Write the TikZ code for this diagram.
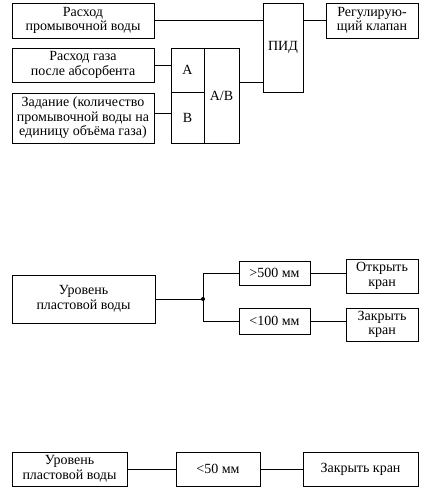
\documentclass[tikz,border=0pt]{standalone}
\usepackage{fontspec}
\setmainfont{Liberation Serif}
\begin{document}
\begin{tikzpicture}[x=1pt,y=-1pt,line width=0.8pt,
    blk/.style={draw,align=center,inner sep=0pt,font=\fontsize{14}{14.5}\selectfont}]
            \useasboundingbox (0,0) rectangle (429,490);
            \node[blk, minimum width=142, minimum height=35] (flow) at (83,20.5) {Расход\\промывочной воды};
            \node[blk, minimum width=142, minimum height=34] (gas) at (83,65) {Расход газа\\после абсорбента};
            \node[blk, minimum width=142, minimum height=50] (task) at (83,118) {Задание (количество\\промывочной воды на\\единицу объёма газа)};
            \node[blk, minimum width=33, minimum height=44] (inA) at (187.5,70) {A};
            \node[blk, minimum width=33, minimum height=51] (inB) at (187.5,117.5) {B};
            \node[blk, minimum width=35, minimum height=95] (ratio) at (221.5,95.5) {A/B};
            \node[blk, minimum width=40, minimum height=89] (pid) at (283,47.5) {ПИД};
            \node[blk, minimum width=92, minimum height=35] (valve) at (372,20.5) {Регулирую-\\щий клапан};
            \draw (flow.east) -- (flow.east -| pid.west);
            \draw (gas.east) -- (gas.east -| inA.west);
            \draw ([yshift=5pt]task.east) -- ([yshift=5pt]task.east -| inB.west);
            \draw ([yshift=13pt]ratio.east) -- ([yshift=13pt]ratio.east -| pid.west);
            \draw (valve.west) -- (valve.west -| pid.east);
            \node[blk, minimum width=143, minimum height=48] (level) at (83.5,299) {Уровень\\пластовой воды};
            \node[blk, minimum width=71, minimum height=24] (high) at (274.5,273) {>500 мм};
            \node[blk, minimum width=71, minimum height=26] (low) at (274.5,321) {<100 мм};
            \node[blk, minimum width=72, minimum height=34] (open) at (382,276) {Открыть\\кран};
            \node[blk, minimum width=72, minimum height=33] (shut) at (382,324.5) {Закрыть\\кран};
            \coordinate (fork) at (203,299);
            \draw (level.east) -- (fork);
            \fill (fork) circle (2);
            \draw (fork) |- (high.west);
            \draw (fork) |- (low.west);
            \draw (high.east) -- (high.east -| open.west);
            \draw (low.east) -- (low.east -| shut.west);
            \node[blk, minimum width=115, minimum height=34] (level2) at (69.5,469) {Уровень\\пластовой воды};
            \node[blk, minimum width=84, minimum height=34] (low2) at (218,469) {<50 мм};
            \node[blk, minimum width=115, minimum height=34] (shut2) at (360.5,469) {Закрыть кран};
            \draw (level2) -- (low2);
            \draw (low2) -- (shut2);
        \end{tikzpicture}
\end{document}
